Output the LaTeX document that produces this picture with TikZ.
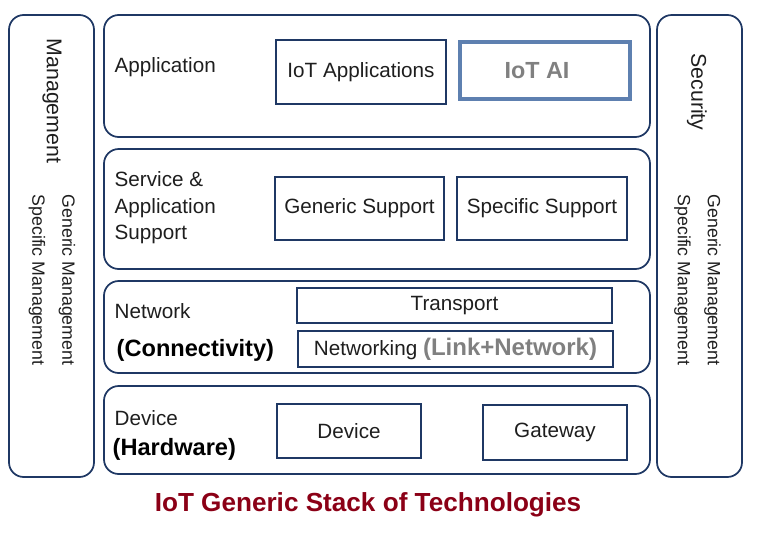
\documentclass[tikz,border=0pt]{standalone}
\usepackage{fontspec}
\setmainfont{Liberation Sans}
\usepackage{tikz}
\usetikzlibrary{positioning}
\definecolor{navy}{RGB}{31,56,100}
\definecolor{steel}{RGB}{94,128,176}
\definecolor{titlered}{RGB}{139,0,22}
\definecolor{txt}{RGB}{30,30,30}
\tikzset{
	layer/.style={draw=navy, line width=1.3pt, rounded corners=11pt, minimum width=409.5pt},
	part/.style={draw=navy, line width=1.5pt, text=txt, font=\fontsize{15.5}{18}\selectfont},
	side/.style={draw=navy, line width=1.3pt, rounded corners=11pt, minimum width=63.75pt, minimum height=346.5pt},
	lbl/.style={anchor=west, text=txt, align=left, font=\fontsize{15.5}{19.8}\selectfont},
	bold/.style={anchor=west, text=black, font=\bfseries\fontsize{17.7}{20}\selectfont},
	vtxt/.style={rotate=-90, text=txt, font=\fontsize{16}{18}\selectfont},
	vsub/.style={rotate=-90, anchor=west, align=left, text=txt, font=\fontsize{13.3}{22.5}\selectfont}
}

\begin{document}
\begin{tikzpicture}[x=0.75pt, y=-0.75pt]
	\useasboundingbox (0,0) rectangle (762,536);
	% side columns
	\node[side] (mgmt) at (51.5,246) {};
	\node[side] (sec) at (699.5,246) {};
	\node[vtxt] (mgmttxt) at (52,101) {Management};
	\node[vsub] (mgmtsub) at (52,190) {Generic Management\\Specific Management};
	\node[vtxt] (sectxt) at (697,92) {Security};
	\node[vsub] (secsub) at (697.5,190) {Generic Management\\Specific Management};
	% layers
	\node[layer, minimum height=91.5pt] (app) at (377,76) {};
	\node[layer, minimum height=90pt] (serv) at (377,209) {};
	\node[layer, minimum height=69pt] (net) at (377,327) {};
	\node[layer, minimum height=66pt] (dev) at (377,430) {};
	% layer labels
	\node[lbl] (applbl) at (110,67) {Application};
	\node[lbl] (servlbl) at (110,208) {Service \&\\Application\\Support};
	\node[lbl] (netlbl) at (110,311) {Network};
	\node[bold] (conn) at (112,350) {(Connectivity)};
	\node[lbl] (devlbl) at (110,418) {Device};
	\node[bold] (hw) at (108,449) {(Hardware)};
	% inner boxes
	\node[part, minimum width=127.5pt, minimum height=48pt] (iotapp) at (361,72) {IoT Applications};
	\node[draw=steel, line width=3pt, minimum width=128pt, minimum height=43pt, text=gray, font=\bfseries\fontsize{17.5}{20}\selectfont] (iotai) at (545,70.5) {IoT AI\hspace{12pt}\mbox{}};
	\node[part, minimum width=126.75pt, minimum height=47.25pt] (gensup) at (359.5,208.5) {Generic Support};
	\node[part, minimum width=127.5pt, minimum height=47.25pt] (specsup) at (542,208.5) {Specific Support};
	\node[part, minimum width=236.25pt, minimum height=26.25pt] (transp) at (454.5,305.5) {Transport};
	\node[part, minimum width=236.25pt, minimum height=27pt] (netw) at (455.5,349) {Networking {\color{gray}\bfseries\fontsize{18}{20}\selectfont (Link+Network)}};
	\node[part, minimum width=108pt, minimum height=40.5pt] (devbox) at (349,431) {Device};
	\node[part, minimum width=108pt, minimum height=41.25pt] (gate) at (555,432.5) {Gateway};
	% title
	\node[text=titlered, font=\bfseries\fontsize{19.6}{22}\selectfont] (title) at (368,505) {IoT Generic Stack of Technologies};
\end{tikzpicture}
\end{document}
